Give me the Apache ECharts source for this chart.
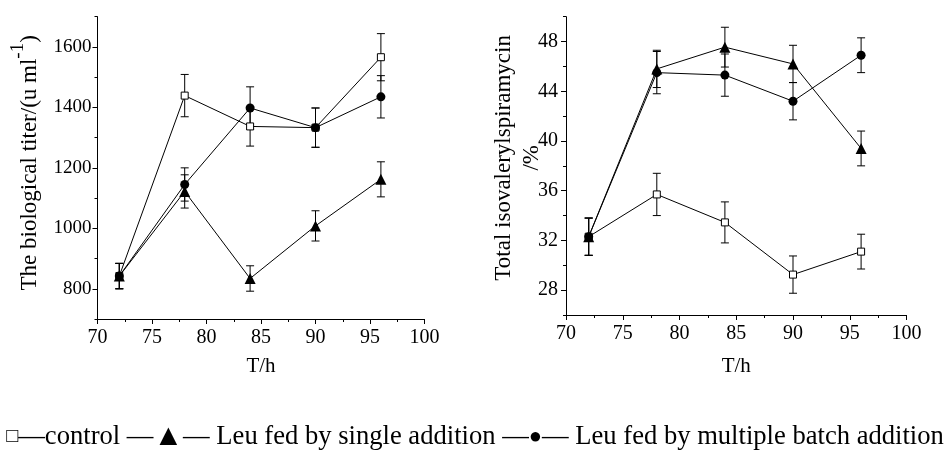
<!DOCTYPE html>
<html>
<head>
<meta charset="utf-8">
<script src="https://cdn.jsdelivr.net/npm/echarts@6/dist/echarts.min.js"></script>
<style>
html,body{margin:0;padding:0;background:#fff;}
#chart{width:950px;height:450px;}
</style>
</head>
<body>
<div id="chart"></div>
<script>
// ---- data ----
var hours = [72, 78, 84, 90, 96];
var titerControl = [842, 1439, 1337, 1333, 1566];
var titerControlErr = [42, 70, 65, 65, 78];
var titerSingle = [842, 1122, 834, 1008, 1162];
var titerSingleErr = [42, 55, 42, 50, 58];
var titerMultiple = [842, 1145, 1398, 1333, 1435];
var titerMultipleErr = [42, 55, 70, 65, 70];
var isoControl = [32.3, 35.7, 33.45, 29.25, 31.1];
var isoControlErr = [1.5, 1.7, 1.65, 1.5, 1.4];
var isoSingle = [32.3, 45.8, 47.55, 46.2, 39.4];
var isoSingleErr = [1.5, 1.5, 1.6, 1.5, 1.4];
var isoMultiple = [32.3, 45.5, 45.3, 43.2, 46.9];
var isoMultipleErr = [1.5, 1.7, 1.7, 1.5, 1.4];
var xTicks = [70, 75, 80, 85, 90, 95, 100];
var titerMajor = [800, 1000, 1200, 1400, 1600];
var isoMajor = [28, 32, 36, 40, 44, 48];

var FONT = 'Liberation Serif';

function pairs(xs, ys) { return xs.map(function (x, i) { return [x, ys[i]]; }); }
function errData(xs, ys, es) { return xs.map(function (x, i) { return [x, ys[i], es[i]]; }); }

function errRender(params, api) {
  var x = api.value(0), y = api.value(1), e = api.value(2);
  var top = api.coord([x, y + e]);
  var bot = api.coord([x, y - e]);
  var hw = 4;
  var st = { stroke: '#000', lineWidth: 1 };
  return {
    type: 'group',
    children: [
      { type: 'line', shape: { x1: top[0], y1: top[1], x2: bot[0], y2: bot[1] }, style: st },
      { type: 'line', shape: { x1: top[0] - hw, y1: top[1], x2: top[0] + hw, y2: top[1] }, style: st },
      { type: 'line', shape: { x1: bot[0] - hw, y1: bot[1], x2: bot[0] + hw, y2: bot[1] }, style: st }
    ]
  };
}

function xAxisDef(gi) {
  return {
    type: 'value', gridIndex: gi, min: 70, max: 100, interval: 5,
    name: 'T/h', nameLocation: 'middle', nameGap: gi === 0 ? 37 : 41, nameMoveOverlap: false,
    nameTextStyle: { fontFamily: FONT, fontSize: 21, color: '#000' },
    axisLine: { show: true, onZero: false, lineStyle: { color: '#000', width: 1 } },
    axisTick: { show: true, length: 5, lineStyle: { color: '#000' } },
    minorTick: { show: true, splitNumber: 2, length: 3, lineStyle: { color: '#000' } },
    splitLine: { show: false },
    axisLabel: { fontFamily: FONT, fontSize: 20, color: '#000', margin: 9 }
  };
}

var chart = echarts.init(document.getElementById('chart'), null, { renderer: 'canvas' });

var option = {
  animation: false,
  backgroundColor: '#fff',
  title: {
    text: '{sq|□}—control —{tri|▲}— Leu fed by single addition —{dot|●}— Leu fed by multiple batch addition',
    left: 'center',
    top: 418,
    textStyle: {
      fontFamily: FONT, fontSize: 26.6, fontWeight: 'normal', color: '#000', lineHeight: 28,
      rich: {
        sq: { fontFamily: FONT, fontSize: 20, color: '#000', lineHeight: 28 },
        tri: { fontFamily: FONT, fontSize: 30, color: '#000', lineHeight: 28 },
        dot: { fontFamily: FONT, fontSize: 22, color: '#000', lineHeight: 28 }
      }
    }
  },
  grid: [
    { left: 97.5, top: 16.7, width: 327, height: 302.3 },
    { left: 566, top: 16.7, width: 340.5, height: 298.3 }
  ],
  xAxis: [xAxisDef(0), xAxisDef(1)],
  yAxis: [
    {
      type: 'value', gridIndex: 0, min: 700, max: 1700, interval: 100,
      name: '{a|The biological titer/(u ml}{s|-1}{a|)}',
      nameLocation: 'middle', nameRotate: 90, nameGap: 56, nameMoveOverlap: false,
      nameTextStyle: {
        padding: [0, 0, 0, 10],
        rich: {
          a: { fontFamily: FONT, fontSize: 23, color: '#000', verticalAlign: 'bottom' },
          s: { fontFamily: FONT, fontSize: 19, color: '#000', lineHeight: 33, verticalAlign: 'top' }
        }
      },
      axisLine: { show: true, onZero: false, lineStyle: { color: '#000', width: 1 } },
      axisTick: { show: true, length: 3, lineStyle: { color: '#000' } },
      splitLine: { show: false },
      axisLabel: {
        fontFamily: FONT, fontSize: 19, color: '#000', margin: 6,
        formatter: function (v) { return titerMajor.indexOf(v) >= 0 ? String(v) : ''; }
      }
    },
    {
      type: 'value', gridIndex: 0, min: 700, max: 1700, position: 'left',
      axisLine: { show: false },
      axisTick: { show: true, length: 5, customValues: titerMajor, lineStyle: { color: '#000' } },
      axisLabel: { show: false },
      splitLine: { show: false }
    },
    {
      type: 'value', gridIndex: 1, min: 26, max: 50, interval: 2,
      name: 'Total isovalerylspiramycin\n/%',
      nameLocation: 'middle', nameRotate: 90, nameGap: 20, nameMoveOverlap: false,
      nameTextStyle: { fontFamily: FONT, fontSize: 23, color: '#000', lineHeight: 28, padding: [0, 0, 0, 16] },
      axisLine: { show: true, onZero: false, lineStyle: { color: '#000', width: 1 } },
      axisTick: { show: true, length: 3, lineStyle: { color: '#000' } },
      splitLine: { show: false },
      axisLabel: {
        fontFamily: FONT, fontSize: 20, color: '#000', margin: 8,
        formatter: function (v) { return isoMajor.indexOf(v) >= 0 ? String(v) : ''; }
      }
    },
    {
      type: 'value', gridIndex: 1, min: 26, max: 50, position: 'left',
      axisLine: { show: false },
      axisTick: { show: true, length: 5, customValues: isoMajor, lineStyle: { color: '#000' } },
      axisLabel: { show: false },
      splitLine: { show: false }
    }
  ],
  series: [
    // error bars
    { type: 'custom', xAxisIndex: 0, yAxisIndex: 0, z: 1, renderItem: errRender, data: errData(hours, titerControl, titerControlErr) },
    { type: 'custom', xAxisIndex: 0, yAxisIndex: 0, z: 1, renderItem: errRender, data: errData(hours, titerSingle, titerSingleErr) },
    { type: 'custom', xAxisIndex: 0, yAxisIndex: 0, z: 1, renderItem: errRender, data: errData(hours, titerMultiple, titerMultipleErr) },
    { type: 'custom', xAxisIndex: 1, yAxisIndex: 2, z: 1, renderItem: errRender, data: errData(hours, isoControl, isoControlErr) },
    { type: 'custom', xAxisIndex: 1, yAxisIndex: 2, z: 1, renderItem: errRender, data: errData(hours, isoSingle, isoSingleErr) },
    { type: 'custom', xAxisIndex: 1, yAxisIndex: 2, z: 1, renderItem: errRender, data: errData(hours, isoMultiple, isoMultipleErr) },
    // lines
    { name: 'control', type: 'line', xAxisIndex: 0, yAxisIndex: 0, z: 3, data: pairs(hours, titerControl),
      symbol: 'rect', symbolSize: 7, showAllSymbol: true,
      itemStyle: { color: '#fff', borderColor: '#000', borderWidth: 1 }, lineStyle: { color: '#000', width: 1 } },
    { name: 'Leu fed by single addition', type: 'line', xAxisIndex: 0, yAxisIndex: 0, z: 4, data: pairs(hours, titerSingle),
      symbol: 'triangle', symbolSize: 11,
      itemStyle: { color: '#000' }, lineStyle: { color: '#000', width: 1 } },
    { name: 'Leu fed by multiple batch addition', type: 'line', xAxisIndex: 0, yAxisIndex: 0, z: 5, data: pairs(hours, titerMultiple),
      symbol: 'circle', symbolSize: 9,
      itemStyle: { color: '#000' }, lineStyle: { color: '#000', width: 1 } },
    { name: 'control', type: 'line', xAxisIndex: 1, yAxisIndex: 2, z: 3, data: pairs(hours, isoControl),
      symbol: 'rect', symbolSize: 7,
      itemStyle: { color: '#fff', borderColor: '#000', borderWidth: 1 }, lineStyle: { color: '#000', width: 1 } },
    { name: 'Leu fed by single addition', type: 'line', xAxisIndex: 1, yAxisIndex: 2, z: 4, data: pairs(hours, isoSingle),
      symbol: 'triangle', symbolSize: 11,
      itemStyle: { color: '#000' }, lineStyle: { color: '#000', width: 1 } },
    { name: 'Leu fed by multiple batch addition', type: 'line', xAxisIndex: 1, yAxisIndex: 2, z: 5, data: pairs(hours, isoMultiple),
      symbol: 'circle', symbolSize: 9,
      itemStyle: { color: '#000' }, lineStyle: { color: '#000', width: 1 } }
  ]
};

chart.setOption(option);
</script>
</body>
</html>
